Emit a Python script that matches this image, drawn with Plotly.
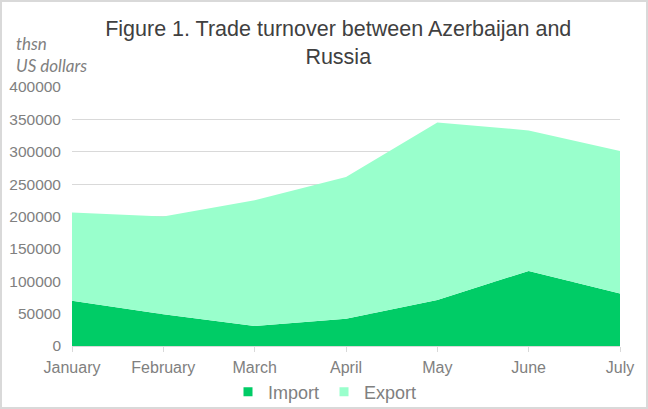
import plotly.graph_objects as go

months = ["January", "February", "March", "April", "May", "June", "July"]
import_vals = [70000, 49000, 31000, 42000, 71000, 116000, 81000]
export_vals = [136000, 151000, 194000, 219000, 274000, 217000, 220000]
y_ticks = [0, 50000, 100000, 150000, 200000, 250000, 300000, 350000, 400000]

IMPORT_COLOR = "#00CC66"
EXPORT_COLOR = "#99FFCC"
TEXT_GRAY = "#808080"
GRID = "#D9D9D9"

W, H = 648, 409
L, R, T, B = 72, 28, 87, 63
pw, ph = W - L - R, H - T - B

fig = go.Figure()
fig.add_trace(go.Scatter(x=months, y=import_vals, name="Import", stackgroup="one",
                         mode="none", fillcolor=IMPORT_COLOR, showlegend=False))
fig.add_trace(go.Scatter(x=months, y=export_vals, name="Export", stackgroup="one",
                         mode="none", fillcolor=EXPORT_COLOR, showlegend=False))
# legend entries as square markers
fig.add_trace(go.Scatter(x=[None], y=[None], name="Import", mode="markers",
                         marker=dict(symbol="square", size=9, color=IMPORT_COLOR)))
fig.add_trace(go.Scatter(x=[None], y=[None], name="Export", mode="markers",
                         marker=dict(symbol="square", size=9, color=EXPORT_COLOR)))

fig.update_layout(
    width=W, height=H,
    margin=dict(l=L, r=R, t=T, b=B, autoexpand=False),
    paper_bgcolor="white", plot_bgcolor="white",
    font=dict(family="Liberation Sans, Arial, sans-serif", color=TEXT_GRAY, size=14),
    title=dict(text="Figure 1. Trade turnover between Azerbaijan and<br>Russia",
               x=0.522, xanchor="center", y=0.912, yanchor="top",
               font=dict(size=21.5, color="#404040")),
    showlegend=True,
    legend=dict(orientation="h", x=(325 - L) / pw, xanchor="center",
                y=-46 / ph, yanchor="middle",
                font=dict(size=18, color=TEXT_GRAY), traceorder="normal",
                itemwidth=30, bgcolor="rgba(0,0,0,0)"),
    xaxis=dict(type="category", range=[0, 6], showgrid=False,
               showline=True, linecolor=GRID, linewidth=1,
               ticks="outside", tickcolor=GRID, ticklen=5, ticklabelstandoff=2,
               tickfont=dict(size=16, color=TEXT_GRAY), fixedrange=True),
    yaxis=dict(range=[0, 400000], tickvals=y_ticks, ticktext=[str(v) for v in y_ticks],
               showgrid=True, gridcolor=GRID, gridwidth=1, zeroline=False,
               showline=False, ticks="", ticklabelstandoff=10,
               tickfont=dict(size=15.5, color=TEXT_GRAY)),
    annotations=[dict(text="<i>thsn<br>US dollars</i>", xref="paper", yref="paper",
                      x=-58 / pw, y=1 + 56 / ph, xanchor="left", yanchor="top",
                      align="left", showarrow=False,
                      font=dict(family="Lato, sans-serif", size=17, color=TEXT_GRAY))],
    shapes=[dict(type="rect", xref="paper", yref="paper",
                 x0=-(L - 1) / pw, x1=1 + (R - 1) / pw,
                 y0=-(B - 1) / ph, y1=1 + (T - 1) / ph,
                 line=dict(color=GRID, width=2), fillcolor="rgba(0,0,0,0)", layer="below")],
)

fig.write_html("out.html", config={"displayModeBar": False},
               post_script="document.body.style.margin='0';")
